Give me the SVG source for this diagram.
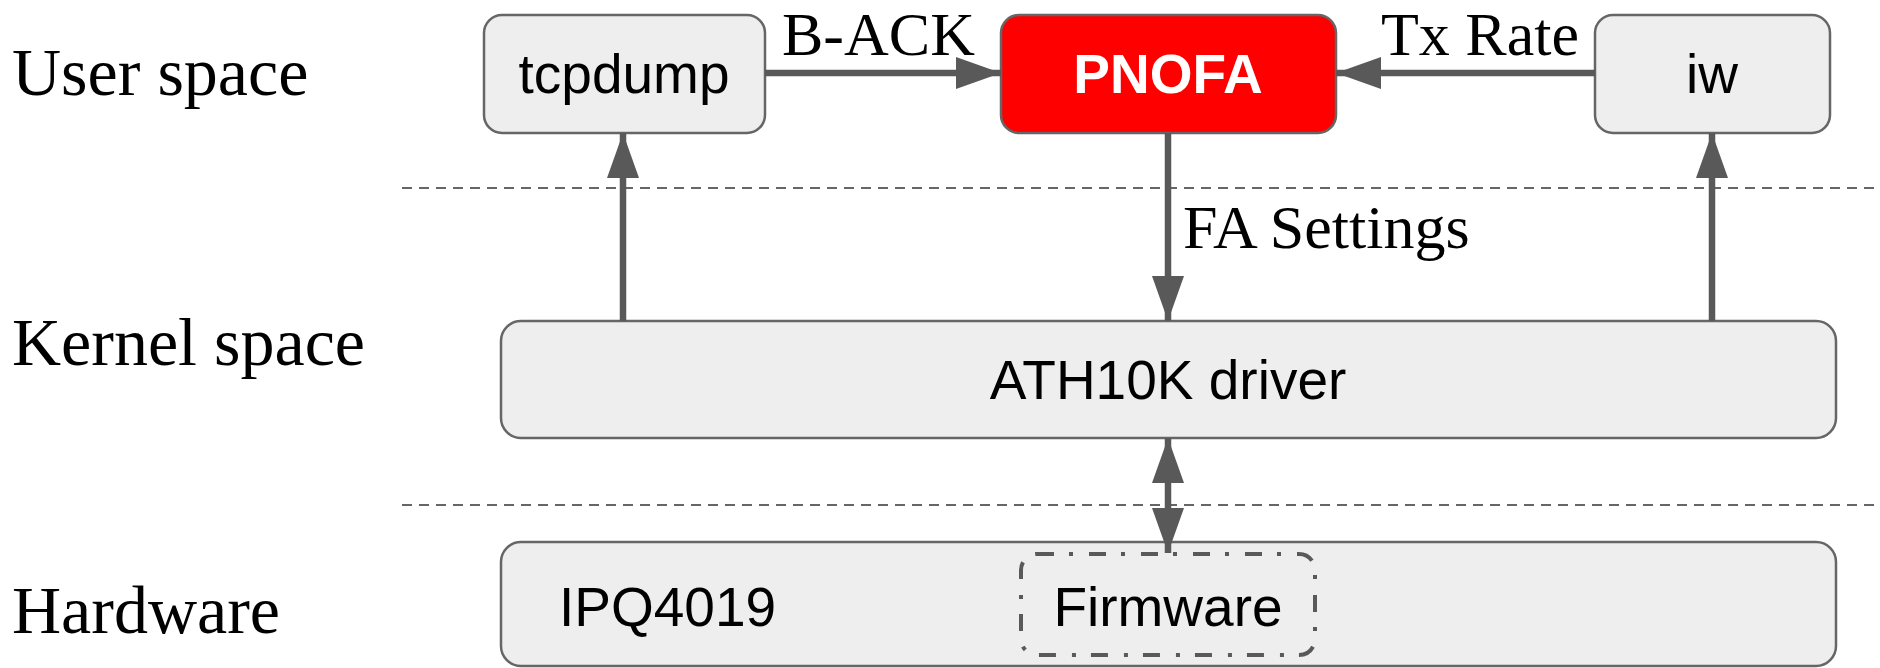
<svg xmlns="http://www.w3.org/2000/svg" width="1880" height="668" viewBox="0 0 1880 668">
<style>
.box{fill:#eeeeee;stroke:#666666;stroke-width:2.5}
.red{fill:#ff0000;stroke:#666666;stroke-width:2.5}
.sans{font-family:"Liberation Sans",Arial,sans-serif;font-size:55px;fill:#000}
.serif{font-family:"Liberation Serif","Times New Roman",serif;font-size:62px;fill:#000}
.lane{font-family:"Liberation Serif","Times New Roman",serif;font-size:68px;fill:#000}
.sep{stroke:#666666;stroke-width:2;stroke-dasharray:10 7;fill:none}
.conn{stroke:#595959;stroke-width:6.5;fill:none}
.fw{fill:none;stroke:#595959;stroke-width:4;stroke-dasharray:17 15 4 16}
</style>
<defs>
<marker id="ah" viewBox="0 0 45 32" refX="45" refY="16" markerWidth="45" markerHeight="32" markerUnits="userSpaceOnUse" orient="auto-start-reverse">
<path d="M0,0 L45,16 L0,32 Z" fill="#595959"/>
</marker>
</defs>
<rect width="1880" height="668" fill="#ffffff"/>
<g id="lanes">
<text class="lane" x="12" y="95">User space</text>
<text class="lane" x="12" y="365">Kernel space</text>
<text class="lane" x="12" y="633">Hardware</text>
<line class="sep" x1="402" y1="188" x2="1880" y2="188"/>
<line class="sep" x1="402" y1="505" x2="1880" y2="505"/>
</g>
<g id="node-tcpdump">
<rect class="box" x="484" y="15" width="281" height="118" rx="18"/>
<text class="sans" x="624" y="93" text-anchor="middle">tcpdump</text>
</g>
<g id="node-pnofa">
<rect class="red" x="1001" y="15" width="335" height="118" rx="18"/>
<text class="sans" x="1168" y="93" text-anchor="middle" font-weight="bold" style="fill:#ffffff">PNOFA</text>
</g>
<g id="node-iw">
<rect class="box" x="1595" y="15" width="235" height="118" rx="18"/>
<text class="sans" x="1712" y="93" text-anchor="middle">iw</text>
</g>
<g id="node-ath10k">
<rect class="box" x="501" y="321" width="1335" height="117" rx="20"/>
<text class="sans" x="1168" y="399" text-anchor="middle">ATH10K driver</text>
</g>
<g id="node-hardware">
<rect class="box" x="501" y="542" width="1335" height="124" rx="20"/>
<text class="sans" x="559" y="626">IPQ4019</text>
</g>
<g id="node-firmware">
<rect class="fw" x="1021" y="554" width="294" height="101" rx="16"/>
<text class="sans" x="1168" y="626" text-anchor="middle">Firmware</text>
</g>
<g id="connectors">
<line class="conn" x1="765" y1="73" x2="1001" y2="73" marker-end="url(#ah)"/>
<text class="serif" x="782" y="55">B-ACK</text>
<line class="conn" x1="1595" y1="73" x2="1336" y2="73" marker-end="url(#ah)"/>
<text class="serif" x="1381" y="55">Tx Rate</text>
<line class="conn" x1="1168" y1="133" x2="1168" y2="321" marker-end="url(#ah)"/>
<text class="serif" x="1183" y="248">FA Settings</text>
<line class="conn" x1="623" y1="321" x2="623" y2="133" marker-end="url(#ah)"/>
<line class="conn" x1="1712" y1="321" x2="1712" y2="133" marker-end="url(#ah)"/>
<line class="conn" x1="1168" y1="438" x2="1168" y2="553" marker-start="url(#ah)" marker-end="url(#ah)"/>
</g>
</svg>
